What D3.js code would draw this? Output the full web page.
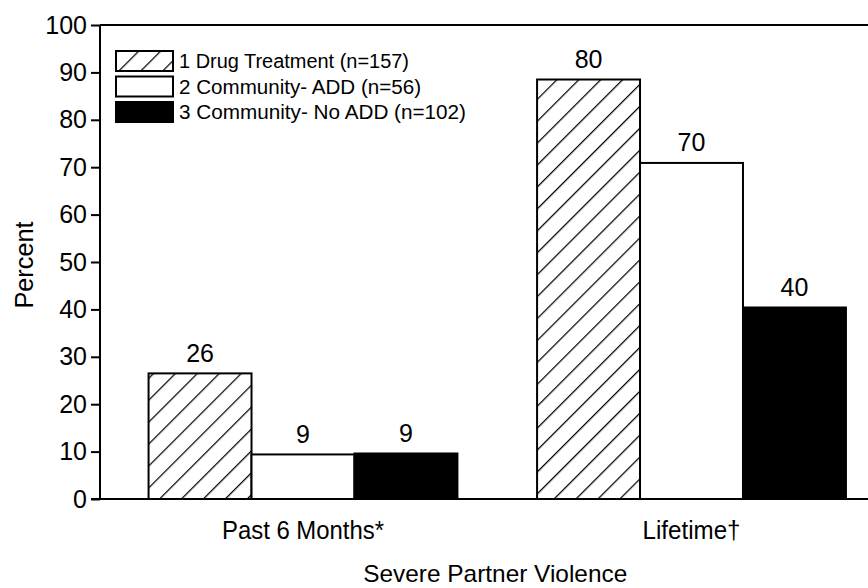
<!DOCTYPE html>
<html>
<head>
<meta charset="utf-8">
<script src="https://cdn.jsdelivr.net/npm/d3@7"></script>
<style>
  html, body { margin: 0; padding: 0; background: #fff; }
  svg { display: block; }
  text { font-family: "Liberation Sans", Arial, Helvetica, sans-serif; fill: #000; }
</style>
</head>
<body>
<svg id="chart" width="868" height="588"></svg>
<script>
// ---- data ----
const categories = ["Past 6 Months*", "Lifetime\u2020"];
const seriesNames = ["1 Drug Treatment (n=157)", "2 Community- ADD (n=56)", "3 Community- No ADD (n=102)"];
// bar heights as drawn in the picture (percent)
const drugTreatment = [26.5, 88.5];
const communityADD = [9.4, 70.9];
const communityNoADD = [9.6, 40.4];
// printed value labels
const drugTreatmentLabels = ["26", "80"];
const communityADDLabels = ["9", "70"];
const communityNoADDLabels = ["9", "40"];
const yTicks = [0, 10, 20, 30, 40, 50, 60, 70, 80, 90, 100];
const yTitle = "Percent";
const xTitle = "Severe Partner Violence";

const seriesValues = [drugTreatment, communityADD, communityNoADD];
const seriesLabels = [drugTreatmentLabels, communityADDLabels, communityNoADDLabels];

(function () {
const svg = d3.select("#chart");
const W = 868;
const axisX = 100, plotTop = 25, base = 499;
const FS = 25;

const defs = svg.append("defs");
const P = 15.5;
const pat = defs.append("pattern")
  .attr("id", "hatch")
  .attr("patternUnits", "userSpaceOnUse")
  .attr("width", P).attr("height", P)
  .attr("patternTransform", "rotate(45)");
pat.append("rect").attr("width", P).attr("height", P).attr("fill", "#fff");
pat.append("line").attr("x1", 0.6).attr("y1", 0).attr("x2", 0.6).attr("y2", P)
  .attr("stroke", "#000").attr("stroke-width", 1.3);

const fills = ["url(#hatch)", "#fff", "#000"];

const y = d3.scaleLinear().domain([0, 100]).range([base, plotTop]);
const x0 = d3.scaleBand().domain(categories).range([axisX, 894.5]).paddingInner(0.205).paddingOuter(0.125);
const x1 = d3.scaleBand().domain(d3.range(seriesNames.length)).range([0, x0.bandwidth()]).padding(0);

const rows = [];
categories.forEach((c, ci) => {
  seriesNames.forEach((s, si) => {
    rows.push({ cat: c, si, value: seriesValues[si][ci], label: seriesLabels[si][ci] });
  });
});

const g = svg.append("g");
g.selectAll("rect.bar").data(rows).join("rect")
  .attr("class", "bar")
  .attr("x", d => x0(d.cat) + x1(d.si))
  .attr("y", d => y(d.value))
  .attr("width", x1.bandwidth())
  .attr("height", d => y(0) - y(d.value))
  .attr("fill", d => fills[d.si])
  .attr("stroke", "#000")
  .attr("stroke-width", 2);

g.selectAll("text.val").data(rows).join("text")
  .attr("class", "val")
  .attr("x", d => x0(d.cat) + x1(d.si) + x1.bandwidth() / 2)
  .attr("y", d => y(d.value) - 11.5)
  .attr("text-anchor", "middle")
  .attr("font-size", FS)
  .text(d => d.label);

svg.append("line").attr("x1", axisX).attr("x2", W).attr("y1", y(100)).attr("y2", y(100))
  .attr("stroke", "#000").attr("stroke-width", 2);
svg.append("line").attr("x1", 91).attr("x2", W).attr("y1", y(0)).attr("y2", y(0))
  .attr("stroke", "#000").attr("stroke-width", 2);

const yAxis = d3.axisLeft(y).tickValues(yTicks).tickSize(9).tickPadding(4).tickFormat(d3.format("d"));
const ya = svg.append("g").attr("transform", `translate(${axisX},0)`).call(yAxis);
ya.select(".domain").attr("stroke", "#000").attr("stroke-width", 2).attr("d", `M0,${y(0)}V${y(100)}`);
ya.selectAll(".tick line").attr("stroke", "#000").attr("stroke-width", 2);
ya.selectAll(".tick text").attr("font-size", FS)
  .style("font-family", '"Liberation Sans", Arial, sans-serif').attr("fill", "#000");

const xLabelWidths = [162, 98];
const xa = d3.axisBottom(x0).tickSize(0).tickPadding(0);
const xg = svg.append("g").attr("transform", `translate(0,${base})`).call(xa);
xg.select(".domain").remove();
xg.selectAll(".tick text").attr("font-size", FS).attr("dy", 0).attr("y", 40)
  .attr("textLength", (d, i) => xLabelWidths[i]).attr("lengthAdjust", "spacingAndGlyphs")
  .style("font-family", '"Liberation Sans", Arial, sans-serif').attr("fill", "#000");

svg.append("text").attr("x", (x0(categories[0]) + x0(categories[1]) + x0.bandwidth()) / 2 - 2)
  .attr("y", 582).attr("text-anchor", "middle").attr("font-size", 24)
  .attr("textLength", 264).attr("lengthAdjust", "spacingAndGlyphs").text(xTitle);
svg.append("text").attr("transform", "translate(33,265) rotate(-90)")
  .attr("text-anchor", "middle").attr("font-size", FS)
  .attr("textLength", 87).attr("lengthAdjust", "spacingAndGlyphs").text(yTitle);

const legWidths = [230, 242, 287];
const leg = svg.append("g").attr("transform", "translate(116,51)");
const li = leg.selectAll("g").data(seriesNames).join("g")
  .attr("transform", (d, i) => `translate(0,${i * 25.5})`);
li.append("rect").attr("width", 57).attr("height", 20)
  .attr("fill", (d, i) => fills[i]).attr("stroke", "#000").attr("stroke-width", 2);
li.append("text").attr("x", 63).attr("y", 17).attr("font-size", 20)
  .attr("textLength", (d, i) => legWidths[i]).attr("lengthAdjust", "spacingAndGlyphs")
  .text(d => d);
})();
</script>
</body>
</html>
